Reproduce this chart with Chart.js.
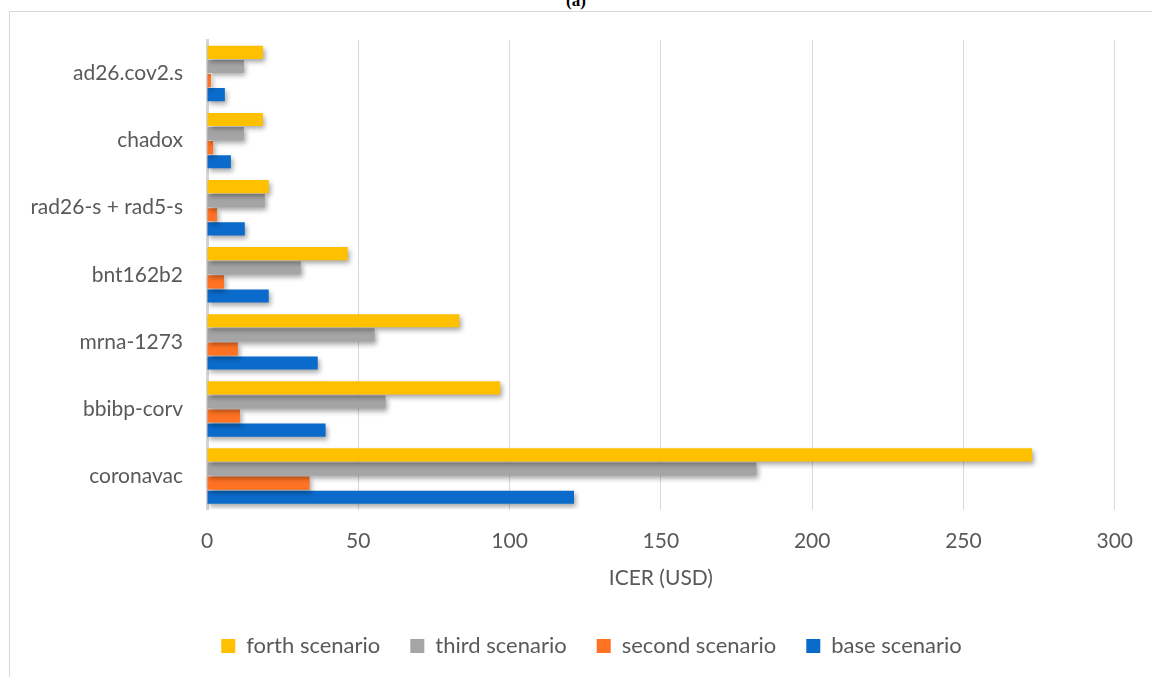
<!DOCTYPE html>
<html>
<head>
<meta charset="utf-8">
<script src="https://cdn.jsdelivr.net/npm/chart.js@4/dist/chart.umd.min.js"></script>
<style>
    body { margin: 0; background: #fff; overflow: hidden; }
    #frame { position: absolute; left: 9px; top: 11px; width: 1160px; height: 700px; border: 1px solid #d9d9d9; }
    #title { position: absolute; top: -9px; left: 0; width: 1152px; text-align: center; font: bold 17px "Liberation Serif", serif; color: #000; }
    #wrap { position: absolute; left: 0; top: 0; width: 1152px; height: 677px; }
</style>
</head>
<body>
<div id="frame"></div>
<div id="title">(a)</div>
<div id="wrap"><canvas id="icerChart"></canvas></div>
<script>
const vaccines = ["ad26.cov2.s", "chadox", "rad26-s + rad5-s", "bnt162b2", "mrna-1273", "bbibp-corv", "coronavac"];
const forthScenario  = [18.5, 18.5, 20.4, 46.5, 83.4, 96.9, 272.7];
const thirdScenario  = [12.2, 12.2, 19.1, 31.0, 55.4, 59.0, 181.6];
const secondScenario = [1.3, 2.0, 3.3, 5.6, 10.2, 10.9, 33.9];
const baseScenario   = [5.9, 7.9, 12.5, 20.4, 36.6, 39.2, 121.3];
const xTicks = [0, 50, 100, 150, 200, 250, 300];

const textColor = '#595959';
const fontFamily = 'Lato, "Open Sans", sans-serif';

// soft drop shadow under the bars, like the office chart
const barShadow = {
    id: 'barShadow',
    beforeDatasetsDraw(chart) {
        const ctx = chart.ctx;
        ctx.save();
        ctx.shadowColor = 'rgba(0, 0, 0, 0.35)';
        ctx.shadowBlur = 5;
        ctx.shadowOffsetX = 2;
        ctx.shadowOffsetY = 3;
    },
    afterDatasetsDraw(chart) {
        chart.ctx.restore();
    }
};

// the legend sits a bit right of the canvas centre in the original
const legendShift = {
    id: 'legendShift',
    afterLayout(chart) {
        chart.legend.left += 27;
        chart.legend.right += 27;
    }
};

function makeSet(label, data, color) {
    return {
        label: label,
        data: data,
        backgroundColor: color,
        borderWidth: 0,
        categoryPercentage: 0.84,
        barPercentage: 0.93
    };
}

new Chart(document.getElementById("icerChart").getContext("2d"), {
    type: 'bar',
    data: {
        labels: vaccines,
        datasets: [
            makeSet('forth scenario', forthScenario, '#FFC000'),
            makeSet('third scenario', thirdScenario, '#A5A5A5'),
            makeSet('second scenario', secondScenario, '#FF7223'),
            makeSet('base scenario', baseScenario, '#0B6BCB')
        ]
    },
    options: {
        indexAxis: 'y',
        responsive: true,
        maintainAspectRatio: false,
        animation: false,
        layout: { padding: { left: 10, right: 33, top: 40, bottom: 10 } },
        plugins: {
            tooltip: { enabled: false },
            legend: {
                position: 'bottom',
                labels: {
                    color: textColor,
                    font: { family: fontFamily, size: 22 },
                    boxWidth: 14,
                    boxHeight: 14,
                    padding: 30
                }
            }
        },
        scales: {
            x: {
                min: 0,
                max: 300,
                afterBuildTicks: (axis) => { axis.ticks = xTicks.map(v => ({ value: v })); },
                grid: { color: '#d9d9d9', lineWidth: 1, drawTicks: false },
                border: { display: false },
                ticks: { color: textColor, font: { family: fontFamily, size: 21 }, padding: 19 },
                title: { display: true, text: 'ICER (USD)', color: textColor, font: { family: fontFamily, size: 21 }, padding: { top: -7, bottom: 14 } }
            },
            y: {
                grid: { display: false },
                border: { display: true, color: '#d4d4d4', width: 3 },
                ticks: { color: textColor, font: { family: fontFamily, size: 21 }, padding: 16 },
                afterFit: (axis) => { axis.width = 197; }
            }
        }
    },
    plugins: [barShadow, legendShift]
});
</script>
</body>
</html>
